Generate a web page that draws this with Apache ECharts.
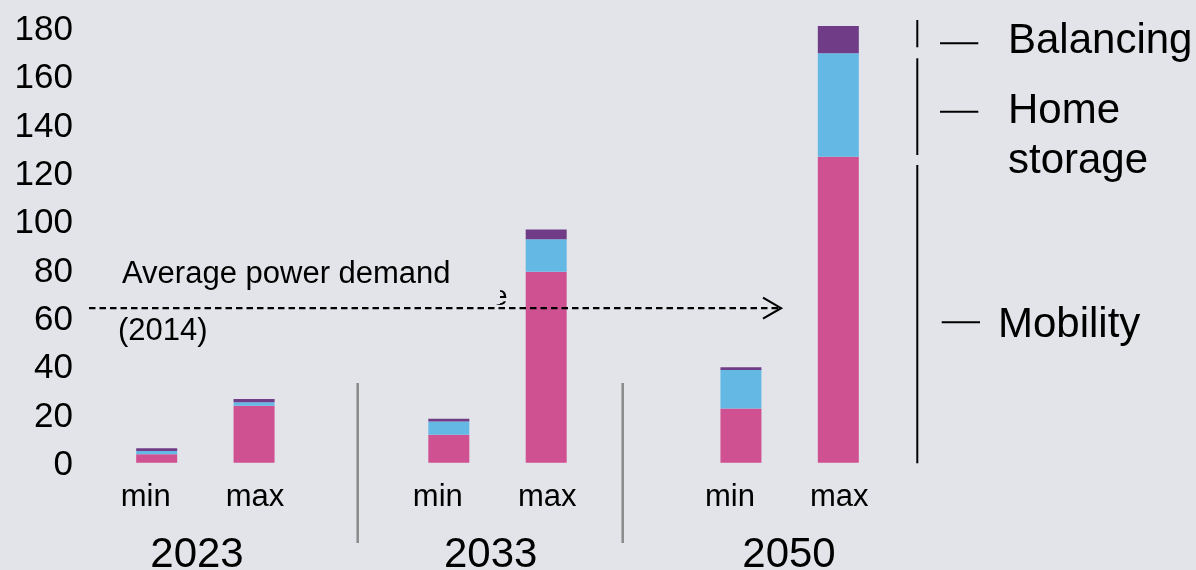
<!DOCTYPE html>
<html>
<head>
<meta charset="utf-8">
<script src="https://cdn.jsdelivr.net/npm/echarts@6/dist/echarts.min.js"></script>
<style>
  html, body { margin: 0; padding: 0; background: #e3e4ea; }
  #chart { width: 1196px; height: 570px; }
</style>
</head>
<body>
<div id="chart"></div>
<script>
// ---- data ----
const categories = ['min', 'max', '', 'min', 'max', '', 'min', 'max'];
const years = ['2023', '2033', '2050'];
const mobility   = [3.5, 23.6, null, 11.6, 79.1, null, 22.4, 126.7];
const homeStorage = [1.3, 1.4, null, 5.5, 13.4, null, 16.0, 42.8];
const balancing  = [1.2, 1.4, null, 1.1, 4.1, null, 1.1, 11.3];
const yTicks = { min: 0, max: 180, interval: 20 };
const avgDemand = 64;
const seriesNames = ['Mobility', 'Home storage', 'Balancing'];

const FONT = 'Liberation Sans, Arial, Helvetica, sans-serif';
const chart = echarts.init(document.getElementById('chart'));

function barSeries(name, data, color) {
  return {
    name: name, type: 'bar', stack: 'total', data: data,
    barWidth: 41, clip: false, z: 2,
    itemStyle: { color: color },
    emphasis: { disabled: true }
  };
}

chart.setOption({
  backgroundColor: '#e3e4ea',
  animation: false,
  grid: { left: 108, right: 309, top: 28, bottom: 107.3, containLabel: false },
  xAxis: {
    type: 'category', data: categories,
    axisLine: { show: false }, axisTick: { show: false },
    axisLabel: {
      interval: 0, margin: 19,
      formatter: function (v) { return v === 'min' ? '{mn|min}' : (v === 'max' ? '{mx|max}' : ''); },
      rich: {
        mn: { fontSize: 31, fontFamily: FONT, color: '#000', padding: [0, 22, 0, 0] },
        mx: { fontSize: 31, fontFamily: FONT, color: '#000', padding: [0, 0, 0, 2] }
      }
    }
  },
  yAxis: {
    type: 'value', min: yTicks.min, max: yTicks.max, interval: yTicks.interval,
    axisLine: { show: false }, axisTick: { show: false }, splitLine: { show: false },
    axisLabel: {
      margin: 35,
      formatter: '{v|{value}}',
      rich: { v: { fontSize: 35, fontFamily: FONT, color: '#000', padding: [5, 0, 0, 0] } }
    }
  },
  series: [
    barSeries(seriesNames[0], mobility, '#d05191'),
    barSeries(seriesNames[1], homeStorage, '#64b8e4'),
    barSeries(seriesNames[2], balancing, '#713c87')
  ]
});

const yDemand = chart.convertToPixel({ yAxisIndex: 0 }, avgDemand);
const yearX = [197, 490.7, 789];

const txt = (text, x, y, size, extra) => ({
  type: 'text', x: x, y: y, silent: true, z: 100,
  style: Object.assign({ text: text, fontSize: size, fontFamily: FONT, fill: '#000',
    textAlign: 'left', textVerticalAlign: 'middle' }, extra || {})
});
const ln = (x1, y1, x2, y2, stroke, w, dash) => ({
  type: 'line', silent: true, z: 100,
  shape: { x1: x1, y1: y1, x2: x2, y2: y2 },
  style: { stroke: stroke, lineWidth: w, lineDash: dash || null }
});

const graphics = [];
// year labels
years.forEach((y, i) => graphics.push(txt(y, yearX[i], 555, 42, { textAlign: 'center' })));
// separators
graphics.push(ln(357.7, 383, 357.7, 543, '#8a8a8a', 2.5));
graphics.push(ln(622.7, 383, 622.7, 543, '#8a8a8a', 2.5));
// clipped glyph fragment
graphics.push(txt('e', 492, 297, 28));
graphics.push({ type: 'rect', silent: true, z: 101, shape: { x: 486, y: 282, width: 14, height: 22 },
  style: { fill: '#e3e4ea' } });
// average demand dashed arrow
graphics.push(Object.assign(ln(89, yDemand, 779, yDemand, '#000', 2.4, [6.5, 4]), { z: 102 }));
graphics.push({
  type: 'polyline', silent: true, z: 102,
  shape: { points: [[763, yDemand - 10.5], [781, yDemand], [763, yDemand + 10.5]] },
  style: { stroke: '#000', lineWidth: 2.2, fill: null }
});
graphics.push(txt('Average power demand', 122, 274, 31));
graphics.push(txt('(2014)', 118, 331, 31));
// right brackets
graphics.push(ln(917.3, 20, 917.3, 47.3, '#000', 2));
graphics.push(ln(917.3, 58.3, 917.3, 155, '#000', 2));
graphics.push(ln(917.3, 165, 917.3, 463.3, '#000', 2));
graphics.push(ln(940, 43.3, 978.3, 43.3, '#000', 2));
graphics.push(ln(940, 111.7, 978.3, 111.7, '#000', 2));
graphics.push(ln(941.7, 322.3, 980, 322.3, '#000', 2));
graphics.push(txt(seriesNames[2], 1008, 41.5, 42));
graphics.push(txt('Home\nstorage', 1008, 136.5, 42, { lineHeight: 50 }));
graphics.push(txt(seriesNames[0], 998, 325.5, 42));

chart.setOption({ graphic: graphics });
</script>
</body>
</html>
